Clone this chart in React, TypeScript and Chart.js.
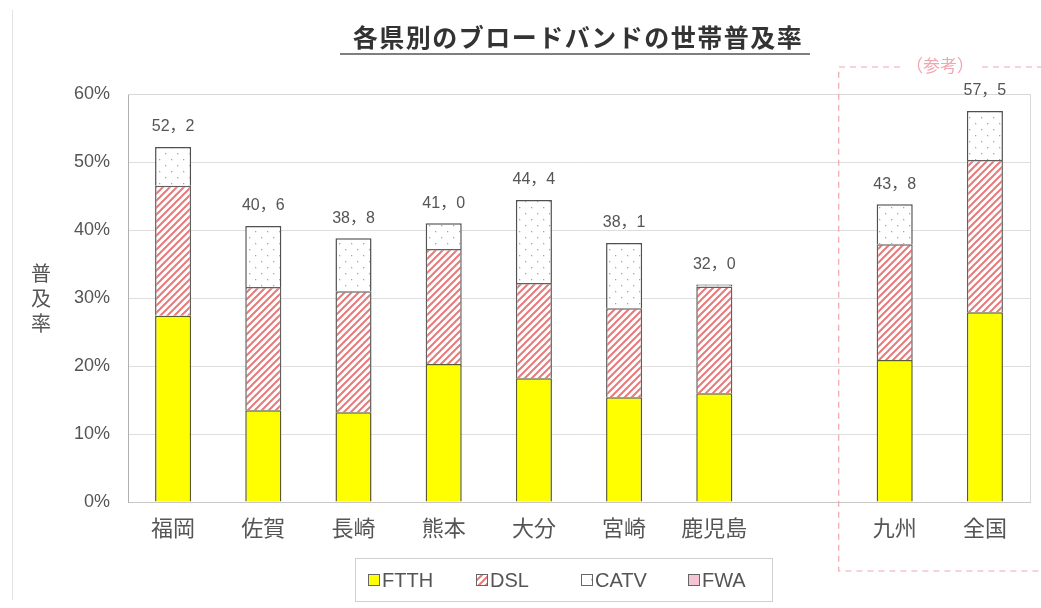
import React, { useEffect, useRef } from 'react';
import { Chart, registerables } from 'chart.js';

Chart.register(...registerables);

const titleText = '各県別のブロードバンドの世帯普及率';
const yAxisTitle = '普及率';
const refLabel = '（参考）';
const categories = ['福岡', '佐賀', '長崎', '熊本', '大分', '宮崎', '鹿児島', '', '九州', '全国'];
const ftth = [27.4, 13.5, 13.2, 20.3, 18.2, 15.4, 16.0, null, 20.9, 27.9];
const dsl = [19.1, 18.1, 17.8, 16.9, 14.0, 13.1, 15.7, null, 17.0, 22.4];
const catv = [5.7, 9.0, 7.8, 3.8, 12.2, 9.6, 0.3, null, 5.9, 7.2];
const fwa = [0, 0, 0, 0, 0, 0, 0, null, 0, 0];
const totals = [52.2, 40.6, 38.8, 41.0, 44.4, 38.1, 32.0, null, 43.8, 57.5];
const seriesNames = ['FTTH', 'DSL', 'CATV', 'FWA'];

function makeHatch(): CanvasPattern | string {
  const s = 7;
  const c = document.createElement('canvas');
  c.width = s; c.height = s;
  const g = c.getContext('2d');
  if (!g) return '#f4b0b0';
  g.fillStyle = '#ffffff';
  g.fillRect(0, 0, s, s);
  g.strokeStyle = '#e77a7a';
  g.lineWidth = 2;
  g.beginPath();
  g.moveTo(-1, s + 1); g.lineTo(s + 1, -1);
  g.moveTo(-1, 1); g.lineTo(1, -1);
  g.moveTo(s - 1, s + 1); g.lineTo(s + 1, s - 1);
  g.stroke();
  return g.createPattern(c, 'repeat') || '#f4b0b0';
}

function makeDots(): CanvasPattern | string {
  const s = 12;
  const c = document.createElement('canvas');
  c.width = s; c.height = s;
  const g = c.getContext('2d');
  if (!g) return '#ffffff';
  g.fillStyle = '#ffffff';
  g.fillRect(0, 0, s, s);
  g.fillStyle = '#9aa8c8';
  g.fillRect(3, 3, 1.3, 1.3);
  g.fillRect(9, 9, 1.3, 1.3);
  return g.createPattern(c, 'repeat') || '#ffffff';
}

export default function App() {
  const ref = useRef<HTMLCanvasElement | null>(null);

  useEffect(() => {
    const canvas = ref.current;
    if (!canvas) return;
    const hatch = makeHatch();
    const dots = makeDots();
    const fills = ['#ffff00', hatch, dots, '#f5c4d4'];

    const decor = {
      id: 'decor',
      beforeDraw(chart: any) {
        const ctx = chart.ctx;
        ctx.save();
        ctx.fillStyle = '#ffffff';
        ctx.fillRect(0, 0, chart.width, chart.height);
        ctx.restore();
      },
      afterDraw(chart: any) {
        const ctx = chart.ctx;
        const ca = chart.chartArea;
        const x = chart.scales.x;
        const y = chart.scales.y;
        ctx.save();
        // chart area frame
        ctx.strokeStyle = '#d8d8d8';
        ctx.lineWidth = 1;
        ctx.beginPath();
        ctx.moveTo(ca.left, ca.top + 0.5);
        ctx.lineTo(ca.right + 0.5, ca.top + 0.5);
        ctx.lineTo(ca.right + 0.5, ca.bottom);
        ctx.stroke();
        // faint page frame
        ctx.strokeStyle = '#e4e4e4';
        ctx.beginPath();
        ctx.moveTo(12.5, 10);
        ctx.lineTo(12.5, 600);
        ctx.stroke();

        // title
        ctx.fillStyle = '#333333';
        ctx.font = 'bold 25px "Noto Sans CJK JP"';
        ctx.textAlign = 'center';
        ctx.textBaseline = 'middle';
        try { (ctx as any).letterSpacing = '1.5px'; } catch (e) { /* ignore */ }
        ctx.fillText(titleText, 578, 37);
        try { (ctx as any).letterSpacing = '0px'; } catch (e) { /* ignore */ }
        ctx.strokeStyle = '#555555';
        ctx.lineWidth = 1.5;
        ctx.beginPath();
        ctx.moveTo(340, 54);
        ctx.lineTo(810, 54);
        ctx.stroke();

        // y axis title
        ctx.fillStyle = '#555555';
        ctx.font = '20px "Noto Sans CJK JP"';
        const chars = Array.from(yAxisTitle);
        chars.forEach((ch, i) => ctx.fillText(ch, 41, 273 + i * 25));

        // totals
        ctx.font = '16px "Liberation Sans", "Noto Sans CJK JP"';
        ctx.fillStyle = '#555555';
        totals.forEach((v, i) => {
          if (v === null) return;
          const px = x.getPixelForValue(i);
          const py = y.getPixelForValue(v);
          ctx.fillText(v.toFixed(1).replace('.', '，'), px, py - 20);
        });

        // dashed reference box
        const boxLeft = x.getPixelForValue(8) - 56;
        const boxTop = 67;
        const boxBottom = 571;
        ctx.strokeStyle = '#f2a5ae';
        ctx.lineWidth = 1.2;
        ctx.setLineDash([6, 5]);
        ctx.beginPath();
        ctx.moveTo(chart.width + 2, boxTop);
        ctx.lineTo(boxLeft, boxTop);
        ctx.lineTo(boxLeft, boxBottom);
        ctx.lineTo(chart.width + 2, boxBottom);
        ctx.stroke();
        ctx.setLineDash([]);
        const labX = 940;
        ctx.font = '17px "Noto Sans CJK JP"';
        const w = ctx.measureText(refLabel).width;
        ctx.fillStyle = '#ffffff';
        ctx.fillRect(labX - w / 2 - 4, boxTop - 10, w + 8, 20);
        ctx.fillStyle = '#f2a5ae';
        ctx.fillText(refLabel, labX, boxTop - 1);

        // legend
        const lx = 355, ly = 558, lw = 417, lh = 43;
        ctx.strokeStyle = '#d0d0d0';
        ctx.lineWidth = 1;
        ctx.strokeRect(lx + 0.5, ly + 0.5, lw, lh);
        const itemX = [368, 476, 581, 688];
        ctx.font = '20px "Liberation Sans"';
        ctx.textAlign = 'left';
        seriesNames.forEach((name, i) => {
          const bx = itemX[i];
          const by = 574;
          ctx.fillStyle = fills[i] as any;
          ctx.fillRect(bx, by, 12, 12);
          ctx.strokeStyle = '#666666';
          ctx.strokeRect(bx + 0.5, by + 0.5, 11, 11);
          ctx.fillStyle = '#555555';
          ctx.fillText(name, bx + 14, by + 7);
        });
        ctx.restore();
      },
    };

    const mk = (label: string, data: (number | null)[], bg: any, bc: string) => ({
      label,
      data,
      backgroundColor: bg,
      borderColor: bc,
      borderWidth: 1.5,
      categoryPercentage: 1,
      barPercentage: 0.4,
    });

    const chart = new Chart(canvas, {
      type: 'bar',
      data: {
        labels: categories,
        datasets: [
          mk(seriesNames[0], ftth, fills[0], '#5a5a30'),
          mk(seriesNames[1], dsl, fills[1], '#606060'),
          mk(seriesNames[2], catv, fills[2], '#505050'),
          mk(seriesNames[3], fwa, fills[3], '#606060'),
        ] as any,
      },
      options: {
        responsive: false,
        animation: false,
        layout: { padding: { top: 94, right: 11, bottom: 66, left: 0 } },
        plugins: {
          legend: { display: false },
          title: { display: false },
          tooltip: { enabled: false },
        },
        scales: {
          x: {
            stacked: true,
            grid: { display: false, drawTicks: false },
            border: { color: '#c8c8c8' },
            ticks: {
              autoSkip: false,
              maxRotation: 0,
              padding: 12,
              color: '#555555',
              font: { family: '"Noto Sans CJK JP"', size: 22 },
            },
            afterFit: (s: any) => { s.height = 40; },
          },
          y: {
            stacked: true,
            min: 0,
            max: 60,
            ticks: {
              stepSize: 10,
              padding: 18,
              color: '#555555',
              font: { family: '"Liberation Sans"', size: 18 },
              callback: (v: any) => v + '%',
            },
            grid: { color: '#dedede', drawTicks: false },
            border: { color: '#b0b0b0' },
            afterFit: (s: any) => { s.width = 128; },
          },
        },
      },
      plugins: [decor],
    } as any);

    return () => chart.destroy();
  }, []);

  return (
    <div style={{ position: 'absolute', left: 0, top: 0, width: 1041, height: 608 }}>
      <canvas ref={ref} width={1041} height={608} style={{ display: 'block' }} />
    </div>
  );
}
